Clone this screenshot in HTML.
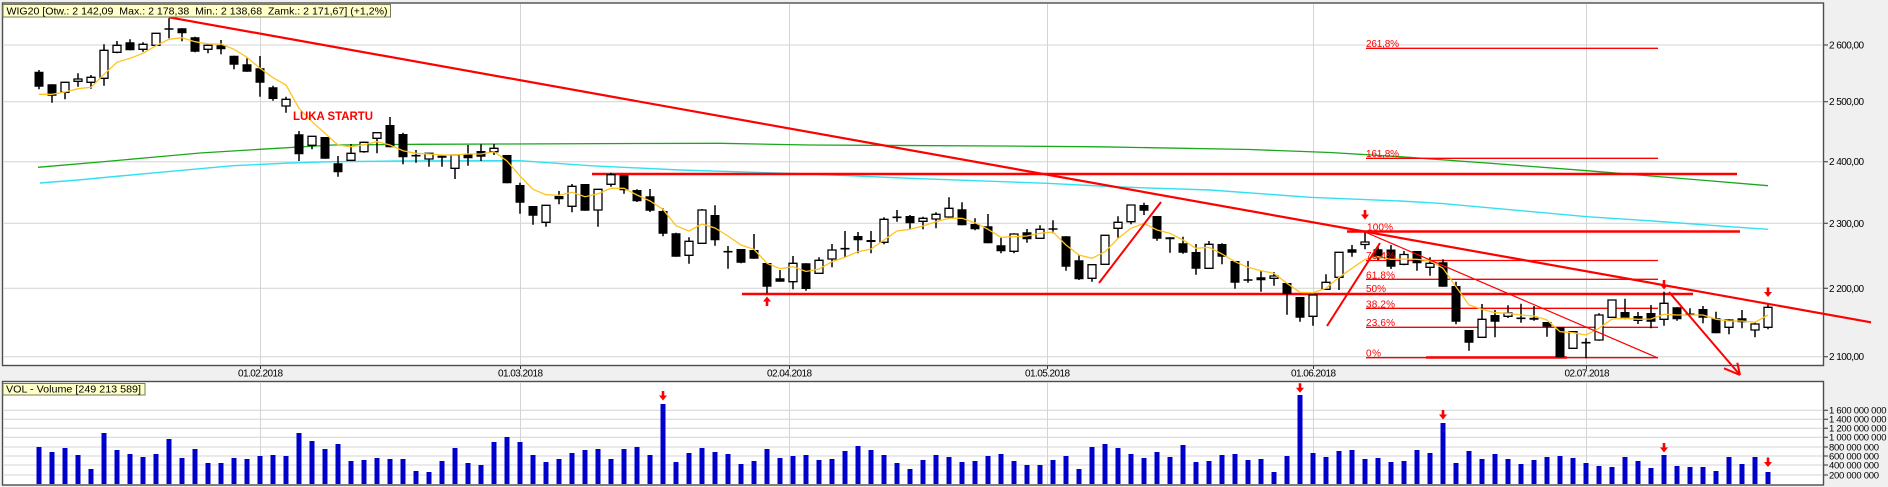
<!DOCTYPE html>
<html><head><meta charset="utf-8"><style>
html,body{margin:0;padding:0;background:#f0f0f0;}
body{width:1888px;height:487px;overflow:hidden;}
svg{display:block;font-family:"Liberation Sans",Arial,sans-serif;}
</style></head><body>
<svg width="1888" height="487" viewBox="0 0 1888 487" xmlns="http://www.w3.org/2000/svg">
<rect x="0" y="0" width="1888" height="487" fill="#f0f0f0"/>
<!-- frames -->
<rect x="2.5" y="3" width="1821" height="362.5" fill="#fff" stroke="#4d4d4d" stroke-width="1.4"/>
<rect x="2.5" y="381.5" width="1821" height="103.5" fill="#fff" stroke="#4d4d4d" stroke-width="1.4"/>
<!-- grid -->
<g stroke="#d4d4d4" stroke-width="1" fill="none">
<path d="M3 45H1823M3 101.7H1823M3 161.7H1823M3 223.3H1823M3 288.3H1823M3 356.7H1823"/>
<path d="M260.5 4V365M520.5 4V365M789.5 4V365M1047.5 4V365M1313.5 4V365M1586.5 4V365"/>
<path d="M260.5 382V484M520.5 382V484M789.5 382V484M1047.5 382V484M1313.5 382V484M1586.5 382V484"/>
<path d="M3 410.3H1823M3 419.3H1823M3 428.3H1823M3 437.3H1823M3 447H1823M3 456H1823M3 465H1823M3 475H1823"/>
</g>
<g stroke="#333" stroke-width="1">
<path d="M260.5 366V369M520.5 366V369M789.5 366V369M1047.5 366V369M1313.5 366V369M1586.5 366V369"/>
<path d="M1824 45H1828M1824 101.7H1828M1824 161.7H1828M1824 223.3H1828M1824 288.3H1828M1824 356.7H1828"/>
<path d="M1824 410.3H1828M1824 419.3H1828M1824 428.3H1828M1824 437.3H1828M1824 447H1828M1824 456H1828M1824 465H1828M1824 475H1828"/>
</g>
<!-- long MAs -->
<polyline fill="none" stroke="#1aa81a" stroke-width="1.3" points="38,167.3 100,162 150,157.5 200,153 260,149.3 333,145 420,144.3 500,144 600,143.6 720,143.3 810,145 1000,146 1100,146.8 1250,149.5 1330,152.5 1400,156.7 1500,164 1587,170.7 1700,180 1768,185.7"/>
<polyline fill="none" stroke="#34e0f0" stroke-width="1.4" points="40,183 78,180 120,176 167,171.7 233,165.7 290,163 333,161.7 400,161 500,160.7 520,160.7 590,165.7 680,170 810,174 910,178.3 1047,183.3 1120,187 1210,190 1310,197.3 1400,201 1440,203.3 1587,216.7 1653,221 1730,226.7 1768,229.3"/>
<!-- horizontal red lines -->
<g stroke="#ff0000" fill="none">
<path stroke-width="2.6" d="M592 174H1737M1347 231.5H1740M742 294H1693M1426 357.5H1567"/>
<path stroke-width="1.3" d="M1366 48.3H1658M1366 158.3H1658M1366 231.7H1658M1366 260.5H1658M1366 279.3H1658M1366 294H1658M1366 308.3H1658M1366 327.3H1658M1366 357.7H1658"/>
</g>
<!-- volume bars -->
<path fill="#0000cc" d="M36.5 447h5V484h-5zM49.5 452h5V484h-5zM62.5 448h5V484h-5zM75.5 455h5V484h-5zM88.5 469h5V484h-5zM101.5 433h5V484h-5zM114.5 450h5V484h-5zM127.5 454h5V484h-5zM140.5 457h5V484h-5zM153.5 454h5V484h-5zM166.5 439h5V484h-5zM179.5 458h5V484h-5zM192.5 449h5V484h-5zM205.5 463h5V484h-5zM218.5 463h5V484h-5zM231.5 458h5V484h-5zM244.5 459h5V484h-5zM257.5 456h5V484h-5zM270.5 455h5V484h-5zM283.5 456h5V484h-5zM296.5 433h5V484h-5zM309.5 441h5V484h-5zM322.5 449h5V484h-5zM335.5 444h5V484h-5zM348.5 461h5V484h-5zM361.5 460h5V484h-5zM374.5 458h5V484h-5zM387.5 459h5V484h-5zM400.5 459h5V484h-5zM413.5 471h5V484h-5zM426.5 472h5V484h-5zM439.5 461h5V484h-5zM452.5 448h5V484h-5zM465.5 463h5V484h-5zM478.5 465h5V484h-5zM491.5 442h5V484h-5zM504.5 437h5V484h-5zM517.5 442h5V484h-5zM530.5 455h5V484h-5zM543.5 462h5V484h-5zM556.5 459h5V484h-5zM569.5 453h5V484h-5zM582.5 450h5V484h-5zM595.5 449h5V484h-5zM608.5 459h5V484h-5zM621.5 449h5V484h-5zM634.5 447h5V484h-5zM647.5 455h5V484h-5zM660.5 404h5V484h-5zM673.5 462h5V484h-5zM686.5 453h5V484h-5zM699.5 448h5V484h-5zM712.5 452h5V484h-5zM725.5 454h5V484h-5zM738.5 464h5V484h-5zM751.5 461h5V484h-5zM764.5 449h5V484h-5zM777.5 458h5V484h-5zM790.5 456h5V484h-5zM803.5 455h5V484h-5zM816.5 460h5V484h-5zM829.5 459h5V484h-5zM842.5 451h5V484h-5zM855.5 446h5V484h-5zM868.5 450h5V484h-5zM881.5 455h5V484h-5zM894.5 463h5V484h-5zM907.5 469h5V484h-5zM920.5 460h5V484h-5zM933.5 455h5V484h-5zM946.5 457h5V484h-5zM959.5 462h5V484h-5zM972.5 461h5V484h-5zM985.5 456h5V484h-5zM998.5 454h5V484h-5zM1011.5 461h5V484h-5zM1024.5 465h5V484h-5zM1037.5 465h5V484h-5zM1050.5 460h5V484h-5zM1063.5 456h5V484h-5zM1076.5 469h5V484h-5zM1089.5 447h5V484h-5zM1102.5 444h5V484h-5zM1115.5 448h5V484h-5zM1128.5 454h5V484h-5zM1141.5 458h5V484h-5zM1154.5 452h5V484h-5zM1167.5 457h5V484h-5zM1180.5 445h5V484h-5zM1193.5 462h5V484h-5zM1206.5 461h5V484h-5zM1219.5 455h5V484h-5zM1232.5 454h5V484h-5zM1245.5 460h5V484h-5zM1258.5 459h5V484h-5zM1271.5 472h5V484h-5zM1284.5 456h5V484h-5zM1297.5 395h5V484h-5zM1310.5 453h5V484h-5zM1323.5 457h5V484h-5zM1336.5 451h5V484h-5zM1349.5 450h5V484h-5zM1362.5 459h5V484h-5zM1375.5 458h5V484h-5zM1388.5 462h5V484h-5zM1401.5 461h5V484h-5zM1414.5 450h5V484h-5zM1427.5 453h5V484h-5zM1440.5 423h5V484h-5zM1453.5 463h5V484h-5zM1466.5 451h5V484h-5zM1479.5 459h5V484h-5zM1492.5 454h5V484h-5zM1505.5 459h5V484h-5zM1518.5 464h5V484h-5zM1531.5 460h5V484h-5zM1544.5 457h5V484h-5zM1557.5 456h5V484h-5zM1570.5 458h5V484h-5zM1583.5 463h5V484h-5zM1596.5 466h5V484h-5zM1609.5 467h5V484h-5zM1622.5 457h5V484h-5zM1635.5 461h5V484h-5zM1648.5 468h5V484h-5zM1661.5 455h5V484h-5zM1674.5 466h5V484h-5zM1687.5 467h5V484h-5zM1700.5 467h5V484h-5zM1713.5 471h5V484h-5zM1726.5 457h5V484h-5zM1739.5 464h5V484h-5zM1752.5 457h5V484h-5zM1765.5 472h5V484h-5z"/>
<!-- wicks -->
<path fill="none" stroke="#000" stroke-width="1.5" d="M39 70V89.3M52 84.3V102.7M65 82V99.3M78 73.3V86.7M91 75V88.7M104 44.3V85.7M117 41V53.3M130 39.3V50.3M143 42.3V51.7M156 33.3V45.3M169 18.3V38.3M182 28.3V41.3M195 36.7V52.3M208 44.3V53.3M221 40V54.3M234 55.7V69.3M247 58.3V71.7M260 56V96.7M273 85.7V100.7M286 96.7V112.7M299 131V161M312 136.3V149.3M325 137V158.7M338 156V176.7M351 144V160.3M364 141.7V152.7M377 132.7V153.3M390 117V147.3M403 132.7V164.3M416 150V162.7M429 153.3V166.7M442 155.7V166.7M455 155V179M468 145V165.7M481 144.3V161M494 144V155M507 155V183.3M520 182.7V213.7M533 206V224.7M546 205.3V226.7M559 191V204.3M572 184V212.3M585 184V210.7M598 189.3V226.7M611 172.7V186.7M624 175.3V193.7M637 189.3V202M650 189V212M663 208.3V236.3M676 232.7V256.7M689 237.3V263.7M702 209V243.3M715 205.3V245.7M728 246V268.7M741 249V263.3M754 234V258.7M767 263V293.3M780 270V281.7M793 256V289.3M806 263.3V290.7M819 257.3V273.3M832 244V267.3M845 231V257.3M858 232V253.3M871 231V253.3M884 217.3V244.3M897 210V221.7M910 215V229.3M923 216.7V229.3M936 212.3V228.3M949 197.3V218.3M962 202.3V225.3M975 218.3V230.3M988 214V243.3M1001 237.7V253.3M1014 233.3V253.3M1027 229V242.7M1040 225.3V238.3M1053 220.3V233.3M1066 236.3V270.7M1079 255.3V280M1092 264.7V281.7M1105 235.3V264.3M1118 216.3V237.7M1131 205V224.3M1144 202.7V215M1157 216V240.7M1170 237.3V252.7M1183 236.7V253.7M1196 244V274.7M1209 241V268.3M1222 243.3V264.3M1235 261V288.7M1248 261V282.7M1261 271V291.7M1274 272V285.7M1287 283V314.7M1300 297V321.7M1313 295V325.7M1326 274.3V289.3M1339 252.3V290M1352 245V256.7M1365 232.3V249.3M1378 246V260M1391 245V269M1404 251V265.3M1417 251V270.7M1430 257.3V275.7M1443 259.3V286.7M1456 281.7V324.3M1469 330V350.7M1482 304V337.3M1495 310V337.3M1508 305.3V318M1521 303.7V322.7M1534 306V320.7M1547 322V336.7M1560 327.3V357.3M1573 331.7V348.3M1586 338.3V358.3M1599 313.3V340.7M1612 300V317.3M1625 298.7V319.3M1638 312V324M1651 305V328.3M1664 291.7V325.7M1677 307.3V320.7M1690 308.3V316.7M1703 306V323.3M1716 311.7V333.3M1729 319.3V334.3M1742 310V328.3M1755 321.7V337.3M1768 303.3V329.3"/>
<!-- black bodies -->
<path fill="#000" d="M34.5 71.7h9v15h-9zM47.5 84.3h9v11.4h-9zM125.5 42.3h9v8h-9zM177.5 28.3h9v5h-9zM190.5 37.3h9v14.4h-9zM216.5 45.3h9v4h-9zM229.5 55.7h9v9h-9zM242.5 64.3h9v7.4h-9zM255.5 68.3h9v14.4h-9zM268.5 87.3h9v11.7h-9zM294.5 134.3h9v20h-9zM320.5 137h9v21.7h-9zM333.5 163.3h9v9h-9zM385.5 125h9v22.3h-9zM398.5 134h9v23.3h-9zM437.5 155.7h9v2h-9zM463.5 154h9v4.3h-9zM476.5 151h9v5.7h-9zM502.5 155h9v28.3h-9zM515.5 185h9v17.7h-9zM528.5 206h9v9.7h-9zM554.5 196h9v3.3h-9zM580.5 184h9v26.7h-9zM619.5 175.3h9v15h-9zM632.5 190h9v11.3h-9zM645.5 196.3h9v14.4h-9zM658.5 211h9v22.7h-9zM671.5 233.3h9v23.4h-9zM710.5 215h9v25.3h-9zM736.5 249h9v13.7h-9zM749.5 250h9v8.7h-9zM762.5 263h9v23.7h-9zM775.5 278.3h9v3.4h-9zM801.5 263.3h9v25.7h-9zM853.5 236h9v4.3h-9zM866.5 240h9v2h-9zM905.5 216h9v7.3h-9zM957.5 209.3h9v16h-9zM970.5 224h9v5.3h-9zM983.5 226.3h9v17h-9zM996.5 245.3h9v6h-9zM1022.5 232.3h9v7h-9zM1061.5 236.3h9v30.4h-9zM1074.5 260.3h9v19h-9zM1139.5 205h9v5.7h-9zM1152.5 216h9v22.7h-9zM1165.5 237.3h9v2h-9zM1178.5 243.3h9v9.4h-9zM1191.5 252h9v16.7h-9zM1217.5 244h9v12.7h-9zM1230.5 261h9v21.7h-9zM1256.5 277.3h9v3h-9zM1282.5 283h9v11h-9zM1295.5 297h9v20.7h-9zM1347.5 249.3h9v3.4h-9zM1373.5 249.3h9v9h-9zM1386.5 249.5h9v17.2h-9zM1412.5 251h9v12.3h-9zM1438.5 262.3h9v24.4h-9zM1451.5 286h9v35.7h-9zM1464.5 330h9v12.7h-9zM1490.5 315h9v6.7h-9zM1529.5 317.7h9v2h-9zM1542.5 322h9v4.7h-9zM1555.5 327.3h9v30h-9zM1620.5 312h9v5.7h-9zM1633.5 316h9v5h-9zM1646.5 313h9v8.7h-9zM1672.5 307.3h9v12h-9zM1698.5 309h9v8.7h-9zM1711.5 318.3h9v15h-9zM1737.5 318.3h9v4h-9z"/>
<!-- white bodies -->
<path fill="#fff" stroke="#000" stroke-width="1.3" d="M61 82.3h8v10h-8zM74 79h8v2.3h-8zM87 77.3h8v5h-8zM100 50.3h8v28h-8zM113 45.3h8v7h-8zM139 44.3h8v5h-8zM152 33.3h8v12h-8zM204 45.3h8v4h-8zM282 99.3h8v6.7h-8zM308 136.3h8v9h-8zM347 153.3h8v7h-8zM360 142.3h8v9.4h-8zM373 132.7h8v5.6h-8zM425 153.3h8v5.7h-8zM451 155h8v13.3h-8zM490 148.3h8v3.4h-8zM542 205.3h8v17h-8zM568 186.3h8v20h-8zM594 189.3h8v20.7h-8zM607 174.7h8v9.6h-8zM685 241.3h8v14h-8zM698 210h8v33.3h-8zM789 263.3h8v18.4h-8zM815 260.3h8v13h-8zM828 250h8v9h-8zM880 219.3h8v23h-8zM919 218.3h8v3h-8zM932 214.3h8v4.7h-8zM945 208.3h8v8.7h-8zM1010 234h8v17.3h-8zM1036 229.3h8v9h-8zM1088 264.7h8v13.6h-8zM1101 235.3h8v29h-8zM1114 222.3h8v6h-8zM1127 205h8v16.7h-8zM1205 244.3h8v24h-8zM1270 276h8v2.3h-8zM1309 295h8v21.3h-8zM1322 282.3h8v7h-8zM1335 252.3h8v25h-8zM1361 242h8v2.5h-8zM1400 254.5h8v9.8h-8zM1426 263.3h8v4h-8zM1478 319.3h8v18h-8zM1504 313h8v3.3h-8zM1569 331.7h8v16.6h-8zM1595 315h8v25h-8zM1608 300h8v17.3h-8zM1660 303.3h8v16h-8zM1725 320h8v7.3h-8zM1751 324h8v6h-8zM1764 307.3h8v20h-8z"/>
<!-- dojis -->
<path fill="none" stroke="#000" stroke-width="1.6" d="M164.5 29h9M411.5 155.7h9M723.5 251.7h9M840.5 248.7h9M892.5 217.3h9M1048.5 229h9M1243.5 280h9M1516.5 318.3h9M1581.5 342.7h9M1685.5 314.3h9"/>
<!-- short MA -->
<polyline fill="none" stroke="#ffc41e" stroke-width="1.3" points="39,94.3 52,94.3 65,92 78,88.7 91,87.3 104,74.3 117,62.3 130,58.3 143,53.3 156,45.7 169,39.3 182,37.7 195,41.7 208,44 221,44 234,49.3 247,57.3 260,68.3 273,77.7 286,85 299,108.3 312,121.7 325,133.3 338,145 351,146.7 364,144.7 377,141.7 390,145 403,150.7 416,153.3 429,154 442,155 455,155 468,154 481,154 494,151.7 507,161 520,176 533,189.3 546,194.7 559,195.3 572,192.3 585,196.7 598,193.7 611,188.3 624,188.3 637,195 650,201 663,209.3 676,225.7 689,231 702,224 715,228 728,236 741,245 754,249.3 767,263.3 780,268.7 793,266.7 806,271.5 819,269 832,261.7 845,257.3 858,251.7 871,249 884,240 897,231 910,229.3 923,226 936,221.7 949,218.3 962,218.3 975,222.7 988,229.3 1001,237.3 1014,236.7 1027,236 1040,233.3 1053,232 1066,245 1079,255 1092,258.3 1105,251.7 1118,238.5 1131,228.3 1144,223.3 1157,230 1170,233.3 1183,240 1196,248.3 1209,247.3 1222,254 1235,261.7 1248,267.3 1261,270.7 1274,273.3 1287,283.3 1300,292.3 1313,292.7 1326,288.3 1339,277.3 1352,268.3 1365,259.3 1378,256.7 1391,259.3 1404,259 1417,259.3 1430,260.7 1443,268.3 1456,286.7 1469,305 1482,309.3 1495,312.7 1508,313.3 1521,315 1534,316 1547,320 1560,331.7 1573,332.7 1586,335 1599,328.3 1612,319 1625,318.3 1638,319.3 1651,319 1664,314.3 1677,315 1690,315 1703,315 1716,319.3 1729,321 1742,321 1755,322.3 1768,315"/>
<!-- red diagonals -->
<g stroke="#ff0000" fill="none">
<path stroke-width="2.2" d="M169 17.3L1871 322.3"/>
<path stroke-width="2" d="M1099 283L1161 202M1327 326L1380 243M1669 292L1740 375M1740 375L1724 368.3M1740 375L1737.3 362.7"/>
<path stroke-width="1.2" d="M1365 232L1658 358"/>
</g>
<!-- arrows -->
<g fill="#ff0000">
<path d="M1363.7 210h2.6v4.5h2.7l-4 5l-4-5h2.7z"/>
<path d="M1662.7 280h2.6v4.5h2.7l-4 5l-4-5h2.7z"/>
<path d="M1766.7 287.5h2.6v4.5h2.7l-4 5l-4-5h2.7z"/>
<path d="M765.7 306v-4.5h-2.7l4-5l4 5h-2.7v4.5z"/>
<path d="M661.7 391h2.6v4.5h2.7l-4 5l-4-5h2.7z"/>
<path d="M1298.7 383.3h2.6v4.5h2.7l-4 5l-4-5h2.7z"/>
<path d="M1441.7 410h2.6v4.5h2.7l-4 5l-4-5h2.7z"/>
<path d="M1662.7 443h2.6v4.5h2.7l-4 5l-4-5h2.7z"/>
<path d="M1766.7 457.5h2.6v4.5h2.7l-4 5l-4-5h2.7z"/>
</g>
<!-- fib labels -->
<g fill="#ff0000" font-size="10">
<text x="1366" y="47" textLength="33">261,8%</text>
<text x="1366" y="157" textLength="33">161,8%</text>
<text x="1367" y="230.5" textLength="26">100%</text>
<text x="1366" y="259" textLength="29">76,4%</text>
<text x="1366" y="278.5" textLength="29">61,8%</text>
<text x="1366" y="292" textLength="20">50%</text>
<text x="1366" y="307.5" textLength="29">38,2%</text>
<text x="1366" y="326" textLength="29">23,6%</text>
<text x="1366" y="356.5" textLength="15">0%</text>
</g>
<text x="293" y="120" fill="#ff0000" font-size="12" font-weight="bold" textLength="80" lengthAdjust="spacingAndGlyphs">LUKA STARTU</text>
<!-- header boxes -->
<rect x="3" y="4.5" width="387.5" height="12.5" fill="#ffffc8" stroke="#7a7a5a" stroke-width="1"/>
<text x="6.5" y="14.5" font-size="10.5" fill="#000" textLength="381" lengthAdjust="spacingAndGlyphs" style="white-space:pre">WIG20 [Otw.: 2 142,09  Max.: 2 178,38  Min.: 2 138,68  Zamk.: 2 171,67] (+1,2%)</text>
<rect x="3" y="383.5" width="142" height="11.5" fill="#ffffc8" stroke="#7a7a5a" stroke-width="1"/>
<text x="6" y="392.7" font-size="10.5" fill="#000" textLength="135" lengthAdjust="spacingAndGlyphs">VOL - Volume [249 213 589]</text>
<!-- y axis labels -->
<g font-size="10" fill="#000">
<text x="1829" y="48.5" textLength="35">2 600,00</text>
<text x="1829" y="105.2" textLength="35">2 500,00</text>
<text x="1829" y="165.2" textLength="35">2 400,00</text>
<text x="1829" y="226.8" textLength="35">2 300,00</text>
<text x="1829" y="291.8" textLength="35">2 200,00</text>
<text x="1829" y="360.2" textLength="35">2 100,00</text>
</g>
<g font-size="9.5" fill="#000">
<text x="1829" y="413.6" textLength="57.5">1 600 000 000</text>
<text x="1829" y="422.6" textLength="57.5">1 400 000 000</text>
<text x="1829" y="431.6" textLength="57.5">1 200 000 000</text>
<text x="1829" y="440.6" textLength="57.5">1 000 000 000</text>
<text x="1829" y="450.3" textLength="50">800 000 000</text>
<text x="1829" y="459.3" textLength="50">600 000 000</text>
<text x="1829" y="468.3" textLength="50">400 000 000</text>
<text x="1829" y="478.3" textLength="50">200 000 000</text>
</g>
<!-- date labels -->
<g font-size="10" fill="#000" text-anchor="middle">
<text x="260.5" y="376.5" textLength="45">01.02.2018</text>
<text x="520.5" y="376.5" textLength="45">01.03.2018</text>
<text x="789.5" y="376.5" textLength="45">02.04.2018</text>
<text x="1047.5" y="376.5" textLength="45">01.05.2018</text>
<text x="1313.5" y="376.5" textLength="45">01.06.2018</text>
<text x="1587" y="376.5" textLength="45">02.07.2018</text>
</g>
</svg>
</body></html>
